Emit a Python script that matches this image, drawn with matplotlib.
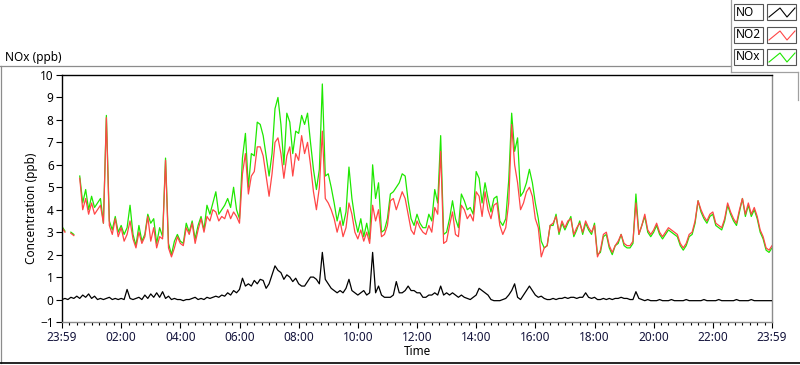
import numpy as np
import matplotlib
matplotlib.use('Agg')
import matplotlib.pyplot as plt
from matplotlib.lines import Line2D
from matplotlib.patches import Rectangle

plt.rcParams['font.family'] = ['Noto Sans', 'DejaVu Sans']

nan = np.nan

# readings every 6 minutes (0.1 h) from 23:59 to 23:59
no2_ppb = [
    3.2, 3.0, nan, 2.95, 2.85, nan, 5.4, 4.0, 4.5, 3.8,
    4.3, 3.8, 4.0, 4.2, 3.4, 8.1, 3.3, 2.9, 3.6, 2.8,
    3.2, 2.6, 2.9, 3.5, 2.7, 2.3, 3.0, 2.5, 2.8, 3.7,
    2.6, 3.2, 2.3, 2.8, 2.7, 6.2, 2.3, 1.9, 2.3, 2.8,
    2.5, 2.4, 3.2, 2.9, 3.4, 2.5, 3.1, 3.6, 3.0, 3.7,
    3.5, 4.0, 3.9, 3.5, 3.7, 3.6, 4.0, 3.6, 3.9, 3.7,
    3.4, 5.6, 6.5, 4.7, 5.5, 5.7, 6.8, 6.8, 6.4, 5.5,
    4.6, 5.6, 7.0, 7.2, 6.5, 5.4, 6.4, 6.8, 5.5, 6.5,
    6.2, 7.3, 6.5, 7.0, 6.0, 4.8, 4.0, 5.0, 7.5, 4.5,
    4.3, 4.0, 3.6, 3.0, 3.5, 2.8, 3.2, 4.3, 3.8, 3.0,
    2.7, 3.1, 2.6, 3.0, 2.5, 4.2, 3.5, 4.0, 2.8, 2.9,
    3.3, 4.4, 4.5, 4.0, 4.4, 4.8, 4.5, 3.8, 3.1, 2.9,
    3.5, 3.2, 3.0, 2.9, 3.3, 3.0, 4.1, 3.8, 6.6, 2.5,
    2.6, 3.3, 3.9, 2.9, 2.8, 4.2, 4.0, 3.6, 3.8, 3.5,
    4.8, 4.6, 3.7, 4.8, 4.0, 3.6, 4.2, 4.3, 3.3, 2.9,
    3.2, 4.3, 7.8, 6.0, 5.2, 4.0, 4.3, 4.8, 5.0, 4.6,
    3.6, 3.2, 1.9, 2.3, 2.4, 3.3, 3.4, 3.7, 3.0, 3.5,
    3.2, 3.5, 3.6, 2.9, 3.2, 3.4, 3.0, 3.5, 3.2, 3.0,
    3.3, 1.9, 2.2, 2.9, 3.0, 2.4, 2.1, 2.4, 2.6, 2.9,
    2.5, 2.4, 2.4, 2.6, 4.3, 2.9, 3.3, 3.8, 3.1, 2.9,
    3.1, 3.4, 3.0, 2.8, 3.0, 3.2, 3.1, 3.0, 2.9, 2.5,
    2.3, 2.5, 2.9, 3.0, 3.5, 4.4, 4.0, 3.7, 3.5, 3.8,
    3.9, 3.4, 3.3, 3.2, 3.6, 4.3, 3.9, 3.6, 3.4, 4.0,
    4.5, 3.8, 4.3, 3.8, 4.1, 3.7, 3.1, 2.8, 2.3, 2.2,
    2.4,
]

nox_ppb = [
    3.25, 3.05, nan, 3.0, 2.9, nan, 5.5, 4.3, 4.9, 4.0,
    4.6, 4.1, 4.3, 4.5, 3.4, 8.2, 3.5, 3.1, 3.7, 3.0,
    3.3, 2.9, 3.2, 4.2, 2.9, 2.4, 3.3, 2.6, 2.9, 3.8,
    3.4, 3.6, 2.5, 3.2, 2.8, 6.3, 2.5, 2.0, 2.6, 2.9,
    2.6, 2.5, 3.4, 3.0, 3.5, 2.7, 3.3, 3.7, 3.1, 4.2,
    3.8, 4.3, 4.8, 3.8, 4.0, 4.2, 4.5, 4.1, 5.0, 4.0,
    3.6, 6.3, 7.4, 5.0, 6.5, 6.4, 7.9, 7.8, 7.3, 6.4,
    5.5, 6.5, 8.5, 9.0, 7.8, 6.0, 8.3, 7.9, 6.5, 7.5,
    7.4, 8.2, 7.8, 8.3, 7.0, 5.8, 4.9, 5.8, 9.6, 5.5,
    5.6, 5.0, 4.3, 3.5, 4.1, 3.3, 3.9, 5.9, 4.5, 3.6,
    3.0, 3.6, 2.8, 3.4, 2.7, 6.0, 4.5, 5.2, 3.0, 3.1,
    3.6, 4.7, 4.8, 5.0, 5.2, 5.6, 5.5, 4.4, 3.6, 3.3,
    3.8, 3.4, 3.2, 3.2, 3.8, 3.5, 4.9, 4.3, 7.3, 2.9,
    3.0, 3.6, 4.4, 3.6, 3.2, 4.7, 4.4, 4.0, 4.1, 3.8,
    5.7, 5.4, 4.3, 5.2, 4.5, 3.9, 4.5, 4.6, 3.5, 3.3,
    3.6, 5.3, 8.3, 6.6, 7.2, 4.6, 4.8, 5.2, 5.8, 5.2,
    4.3, 3.6, 2.6, 2.3, 2.4, 3.3, 3.3, 3.8, 2.9, 3.4,
    3.1, 3.4, 3.7, 2.8, 3.1, 3.5, 2.9, 3.4, 3.1, 2.9,
    3.4, 2.0, 2.1, 2.8, 2.9, 2.3, 2.0, 2.4, 2.5, 2.9,
    2.4, 2.3, 2.3, 2.5, 4.7, 2.9, 3.3, 3.7, 3.0, 2.8,
    3.0, 3.3, 2.9, 2.7, 2.9, 3.1, 3.0, 2.9, 2.8, 2.4,
    2.2, 2.4, 2.8, 2.9, 3.4, 4.4, 3.9, 3.6, 3.4, 3.7,
    3.8, 3.3, 3.2, 3.1, 3.5, 4.2, 3.8, 3.5, 3.3, 3.9,
    4.5, 3.7, 4.2, 3.7, 4.0, 3.6, 3.0, 2.7, 2.2, 2.1,
    2.3,
]

no_ppb = [
    0.0, 0.05, 0.0, 0.1, 0.05, 0.15, 0.05, 0.2, 0.1, 0.25,
    0.05, 0.15, 0.0, 0.05, 0.0, 0.05, 0.1, 0.0, 0.05, 0.0,
    0.05, 0.0, 0.45, 0.05, 0.0, 0.05, 0.1, 0.0, 0.2, 0.05,
    0.25, 0.1, 0.3, 0.1, 0.35, 0.05, 0.15, 0.0, 0.05, 0.0,
    0.0, -0.05, 0.0, 0.0, 0.05, 0.1, 0.0, 0.05, 0.0, 0.1,
    0.05, 0.1, 0.15, 0.1, 0.2, 0.15, 0.3, 0.2, 0.4, 0.3,
    0.45, 0.95, 0.6, 0.7, 0.6, 0.85, 0.7, 0.9, 0.85, 0.5,
    0.7, 1.1, 1.5, 1.3, 1.2, 0.9, 1.1, 1.0, 0.8, 0.95,
    0.7, 0.6, 0.6, 0.8, 1.0, 1.0, 0.9, 0.7, 2.1, 0.9,
    0.7, 0.5, 0.4, 0.3, 0.4, 0.3, 0.5, 0.9, 0.4, 0.3,
    0.2, 0.3, 0.4, 0.2, 0.3, 2.1, 0.3, 0.6, 0.2, 0.1,
    0.1, 0.1, 0.2, 0.8, 0.3, 0.3, 0.4, 0.6, 0.4, 0.4,
    0.3, 0.3, 0.1, 0.1, 0.2, 0.2, 0.3, 0.2, 0.6, 0.2,
    0.3, 0.2, 0.3, 0.2, 0.1, 0.2, 0.1, 0.05, 0.0, 0.1,
    0.2, 0.5, 0.4, 0.3, 0.2, 0.0, -0.05, -0.05, -0.05, 0.0,
    0.05, 0.2, 0.4, 0.7, 0.1, 0.0, 0.2, 0.4, 0.6, 0.4,
    0.2, 0.1, 0.15, 0.05, 0.0, 0.0, 0.05, 0.0, 0.05, 0.05,
    0.1, 0.05, 0.1, 0.1, 0.05, 0.1, 0.1, 0.3, 0.1, 0.05,
    0.1, 0.0, 0.0, 0.05, 0.0, 0.05, 0.0, 0.05, 0.05, 0.1,
    0.05, 0.05, 0.0, 0.0, 0.35, 0.05, 0.0, -0.05, 0.0, -0.05,
    -0.05, -0.05, 0.0, -0.05, -0.05, -0.05, 0.0, -0.05, -0.05, -0.05,
    -0.05, 0.0, -0.05, -0.05, -0.05, -0.05, -0.05, 0.0, -0.05, -0.05,
    -0.05, -0.05, 0.0, -0.05, -0.05, -0.05, -0.05, -0.05, 0.0, -0.05,
    -0.05, -0.05, -0.05, 0.0, -0.05, -0.05, -0.05, -0.05, -0.05, -0.05,
    -0.05,
]

tick_hours = [0, 2, 4, 6, 8, 10, 12, 14, 16, 18, 20, 22, 24]
tick_labels = ['23:59', '02:00', '04:00', '06:00', '08:00', '10:00', '12:00',
               '14:00', '16:00', '18:00', '20:00', '22:00', '23:59']
series_names = ['NO', 'NO2', 'NOx']
series_colors = ['#000000', '#ff4646', '#1ee800']

hours = np.arange(len(no2_ppb)) * 0.1

W, H = 800, 365
fig = plt.figure(figsize=(W / 100, H / 100), dpi=100)


def fx(x):
    return x / W


def fy(y):
    return 1 - y / H


# plot area
ax = fig.add_axes([fx(62), fy(322), fx(772) - fx(62), fy(75) - fy(322)])
ax.plot(hours, nox_ppb, color=series_colors[2], lw=0.9, zorder=1)
ax.plot(hours, no2_ppb, color=series_colors[1], lw=0.9, zorder=2)
ax.plot(hours, no_ppb, color=series_colors[0], lw=0.9, zorder=3)

ax.set_xlim(0, 24)
ax.set_ylim(-1, 10)
ax.set_yticks(range(-1, 11))
ax.set_xticks(tick_hours)
ax.set_xticklabels(tick_labels)
ax.set_xticks(np.arange(0, 24.01, 0.25), minor=True)

ax.spines['left'].set_color('black')
ax.spines['top'].set_color('black')
ax.spines['right'].set_color('#8c8c8c')
ax.spines['bottom'].set_color('#8c8c8c')
for s in ax.spines.values():
    s.set_linewidth(1.0)

ax.tick_params(axis='y', which='major', length=4.5, width=0.8, pad=1.5,
               labelsize=8.5, colors='black')
ax.tick_params(axis='x', which='major', length=4, width=0.8, pad=2.5,
               labelsize=8.5, colors='black', labelcolor='#14143c')
ax.tick_params(axis='x', which='minor', length=2.5, width=0.8, colors='black')

ax.set_ylabel('Concentration (ppb)', fontsize=8.5)
ax.yaxis.set_label_coords(-0.034, 0.46)
ax.set_xlabel('Time', fontsize=8.5, labelpad=1)

# panel frame and caption
fig.text(fx(5), fy(61), 'NOx (ppb)', fontsize=8.5, va='baseline', ha='left')
fig.add_artist(Line2D([fx(0), fx(731)], [fy(65.5), fy(65.5)], color='#8c8c8c', lw=0.9))
fig.add_artist(Line2D([fx(1), fx(1)], [fy(65.5), fy(363)], color='#8c8c8c', lw=0.9))
fig.add_artist(Line2D([fx(0), fx(800)], [fy(363), fy(363)], color='black', lw=1.2))

# legend panel
fig.add_artist(Line2D([fx(731), fx(731)], [fy(0), fy(72)], color='#a0a0a0', lw=0.9))
fig.add_artist(Line2D([fx(731), fx(798)], [fy(72), fy(72)], color='#a0a0a0', lw=0.9))
fig.add_artist(Line2D([fx(798), fx(798)], [fy(72), fy(100)], color='#a0a0a0', lw=0.9))

row_tops = [4, 27, 49]
for name, color, top in zip(series_names, series_colors, row_tops):
    fig.add_artist(Rectangle((fx(734), fy(top + 16)), fx(29), fy(top) - fy(top + 16),
                             fill=False, edgecolor='#555555', lw=0.8))
    fig.text(fx(736), fy(top + 8), name, fontsize=8.5, va='center', ha='left')
    fig.add_artist(Rectangle((fx(767), fy(top + 16)), fx(29), fy(top) - fy(top + 16),
                             fill=False, edgecolor='#555555', lw=0.8))
    zx = [769, 780, 787, 795]
    zy = [top + 13, top + 4, top + 13, top + 4]
    fig.add_artist(Line2D([fx(v) for v in zx], [fy(v) for v in zy], color=color, lw=0.8))

plt.savefig('out.png', dpi=100)
plt.close()
